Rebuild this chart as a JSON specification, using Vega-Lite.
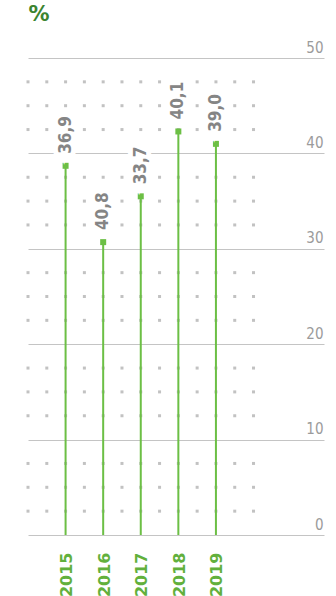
{
  "$schema": "https://vega.github.io/schema/vega-lite/v6.json",
  "width": 296,
  "height": 477,
  "autosize": {"type": "none"},
  "padding": {"left": 28, "top": 58, "right": 12, "bottom": 61},
  "background": "white",
  "datasets": {
    "bars": [
      {"year": 2015, "value": 38.7, "label": "36,9"},
      {"year": 2016, "value": 30.7, "label": "40,8"},
      {"year": 2017, "value": 35.5, "label": "33,7"},
      {"year": 2018, "value": 42.3, "label": "40,1"},
      {"year": 2019, "value": 41.0, "label": "39,0"}
    ],
    "dots": [
      {"dx": [2014, 2014.5, 2015, 2015.5, 2016, 2016.5, 2017, 2017.5, 2018, 2018.5, 2019, 2019.5, 2020],
       "dy": [2.5, 5, 7.5, 12.5, 15, 17.5, 22.5, 25, 27.5, 32.5, 35, 37.5, 42.5, 45, 47.5]}
    ]
  },
  "layer": [
    {
      "data": {"name": "dots"},
      "transform": [{"flatten": ["dx"]}, {"flatten": ["dy"]}],
      "mark": {"type": "square", "size": 9, "color": "#c2c2c2", "opacity": 1},
      "encoding": {
        "x": {"field": "dx", "type": "quantitative", "scale": {"domain": [2014, 2021.875], "nice": false, "zero": false},
          "axis": {
            "values": [2015, 2016, 2017, 2018, 2019],
            "format": "d",
            "title": null,
            "domain": false,
            "ticks": false,
            "grid": false,
            "labelAngle": 270,
            "labelAlign": "right",
            "labelBaseline": "middle",
            "labelPadding": 17,
            "labelOffset": 1,
            "labelFont": "DejaVu Sans",
            "labelFontSize": 16,
            "labelFontWeight": "bold",
            "labelColor": "#62b03c",
            "labelFlush": false,
            "labelOverlap": false
          }},
        "y": {"field": "dy", "type": "quantitative", "scale": {"domain": [0, 50], "nice": false},
          "axis": {
            "orient": "right",
            "values": [0, 10, 20, 30, 40, 50],
            "title": "%",
            "titleAngle": 0,
            "titleAlign": "left",
            "titleBaseline": "alphabetic",
            "titleX": -296,
            "titleY": -38,
            "titleFont": "DejaVu Sans",
            "titleFontSize": 21,
            "titleFontWeight": "bold",
            "titleColor": "#3b8430",
            "domain": false,
            "ticks": false,
            "grid": true,
            "gridColor": "#c4c4c4",
            "gridWidth": 1,
            "labelAlign": "right",
            "labelBaseline": "alphabetic",
            "labelPadding": -1,
            "labelOffset": -6,
            "labelFont": "Liberation Sans Narrow, DejaVu Sans Condensed, sans-serif",
            "labelFontSize": 15,
            "labelColor": "#9b9b9b",
            "labelFlush": false,
            "labelOverlap": false
          }}
      }
    },
    {
      "data": {"name": "bars"},
      "mark": {"type": "rule", "color": "#6cbf45", "strokeWidth": 2},
      "encoding": {
        "x": {"field": "year", "type": "quantitative"},
        "y": {"field": "value", "type": "quantitative"},
        "y2": {"datum": 0}
      }
    },
    {
      "data": {"name": "bars"},
      "mark": {"type": "square", "size": 36, "color": "#6cbf45", "opacity": 1},
      "encoding": {
        "x": {"field": "year", "type": "quantitative"},
        "y": {"field": "value", "type": "quantitative"}
      }
    },
    {
      "data": {"name": "bars"},
      "mark": {"type": "text", "angle": 270, "align": "left", "baseline": "middle", "dx": 12,
        "font": "DejaVu Sans Condensed", "fontSize": 17, "fontWeight": "bold",
        "stroke": "white", "strokeWidth": 10, "strokeJoin": "miter", "fill": "white"},
      "encoding": {
        "x": {"field": "year", "type": "quantitative"},
        "y": {"field": "value", "type": "quantitative"},
        "text": {"field": "label"}
      }
    },
    {
      "data": {"name": "bars"},
      "mark": {"type": "text", "angle": 270, "align": "left", "baseline": "middle", "dx": 12,
        "font": "DejaVu Sans Condensed", "fontSize": 17, "fontWeight": "bold", "color": "#858585"},
      "encoding": {
        "x": {"field": "year", "type": "quantitative"},
        "y": {"field": "value", "type": "quantitative"},
        "text": {"field": "label"}
      }
    }
  ],
  "config": {"view": {"stroke": null}}
}
